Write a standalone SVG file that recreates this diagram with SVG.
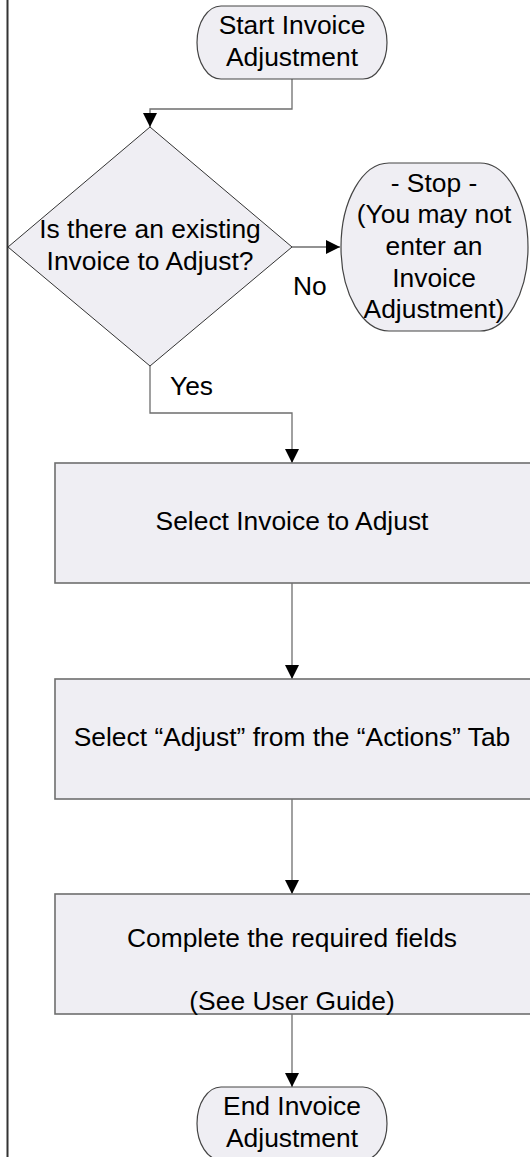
<svg xmlns="http://www.w3.org/2000/svg" width="530" height="1157" viewBox="0 0 530 1157">
<style>
text{font-family:"Liberation Sans",Arial,sans-serif;font-size:26.4px;fill:#000;text-anchor:middle}
.lbl{text-anchor:start}
.term{fill:#EFEEF3;stroke:#444;stroke-width:1.2}
.dec{fill:#EFEEF3;stroke:#333;stroke-width:1}
.proc{fill:#EFEEF3;stroke:#6E6E6E;stroke-width:1.6}
.con{fill:none;stroke:#6E6E6E;stroke-width:1.3}
</style>
<defs>
<marker id="arr" viewBox="0 0 14 14" refX="14" refY="7" markerWidth="14" markerHeight="14" markerUnits="userSpaceOnUse" orient="auto">
<path d="M0,0 L14,7 L0,14 Z" fill="#000"/>
</marker>
</defs>
<rect width="530" height="1157" fill="#fff"/>
<line x1="7.5" y1="0" x2="7.5" y2="1157" stroke="#333" stroke-width="2"/>
<g id="connectors">
<polyline class="con" points="292,79 292,109 150,109 150,127" marker-end="url(#arr)"/>
<polyline class="con" points="292,247 340,247" marker-end="url(#arr)"/>
<polyline class="con" points="150,366 150,413 292,413 292,463" marker-end="url(#arr)"/>
<polyline class="con" points="292,583 292,679" marker-end="url(#arr)"/>
<polyline class="con" points="292,799 292,894" marker-end="url(#arr)"/>
<polyline class="con" points="292,1014 292,1087" marker-end="url(#arr)"/>
<text class="lbl" x="293" y="295">No</text>
<text class="lbl" x="170" y="395">Yes</text>
</g>
<g id="start">
<rect class="term" x="197" y="6" width="190" height="73" rx="24" ry="36.5"/>
<text x="292" y="34">Start Invoice</text>
<text x="292" y="66">Adjustment</text>
</g>
<g id="decision">
<polygon class="dec" points="150,127 292,247 150,366 8,247"/>
<text x="150" y="238">Is there an existing</text>
<text x="150" y="270">Invoice to Adjust?</text>
</g>
<g id="stop">
<rect class="term" x="341" y="163" width="187" height="168" rx="48" ry="84"/>
<text x="434" y="192">- Stop -</text>
<text x="434" y="223">(You may not</text>
<text x="434" y="255">enter an</text>
<text x="434" y="287">Invoice</text>
<text x="434" y="318">Adjustment)</text>
</g>
<g id="select-invoice">
<rect class="proc" x="55" y="463" width="490" height="120"/>
<text x="292" y="530">Select Invoice to Adjust</text>
</g>
<g id="select-adjust">
<rect class="proc" x="55" y="679" width="490" height="120"/>
<text x="292" y="746">Select “Adjust” from the “Actions” Tab</text>
</g>
<g id="complete-fields">
<rect class="proc" x="55" y="894" width="490" height="120"/>
<text x="292" y="947">Complete the required fields</text>
<text x="292" y="1010">(See User Guide)</text>
</g>
<g id="end">
<rect class="term" x="197" y="1087" width="190" height="73" rx="24" ry="36.5"/>
<text x="292" y="1115">End Invoice</text>
<text x="292" y="1147">Adjustment</text>
</g>
</svg>
